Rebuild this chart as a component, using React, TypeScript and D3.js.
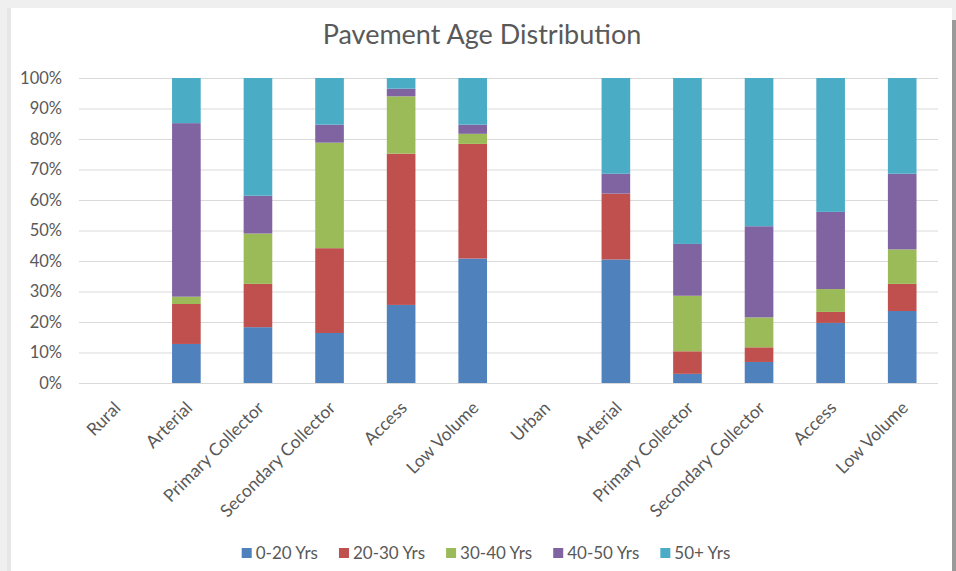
import React, { useEffect, useRef } from "react";
import * as d3 from "d3";

const categories = [
  "Rural", "Arterial", "Primary Collector", "Secondary Collector", "Access", "Low Volume",
  "Urban", "Arterial", "Primary Collector", "Secondary Collector", "Access", "Low Volume",
];
const seriesNames = ["0-20 Yrs", "20-30 Yrs", "30-40 Yrs", "40-50 Yrs", "50+ Yrs"];
const s0_20 = [0, 12.8, 18.3, 16.4, 25.6, 40.8, 0, 40.5, 3.0, 6.9, 19.7, 23.6];
const s20_30 = [0, 13.1, 14.2, 27.8, 49.6, 37.6, 0, 21.6, 7.4, 4.8, 3.6, 8.9];
const s30_40 = [0, 2.4, 16.5, 34.6, 18.8, 3.3, 0, 0, 18.2, 9.8, 7.5, 11.3];
const s40_50 = [0, 56.9, 12.4, 5.9, 2.5, 3.0, 0, 6.5, 17.0, 29.9, 25.3, 24.8];
const s50plus = [0, 14.8, 38.6, 15.3, 3.5, 15.3, 0, 31.4, 54.4, 48.6, 43.9, 31.4];
const yTicks = [0, 10, 20, 30, 40, 50, 60, 70, 80, 90, 100];
const colors = ["#4F81BD", "#C0504D", "#9BBB59", "#8064A2", "#4BACC6"];

const W = 956, H = 571;
const FONT = "Lato, 'Open Sans', sans-serif";

export default function App() {
  const ref = useRef<SVGSVGElement>(null);
  useEffect(() => {
    const svg = d3.select(ref.current);
    svg.selectAll("*").remove();

    // frame
    svg.append("rect").attr("width", W).attr("height", H).attr("fill", "#efefef");
    svg.append("rect").attr("x", 7).attr("y", 8).attr("width", 5).attr("height", H).attr("fill", "#e6e6e6");
    svg.append("rect").attr("x", 11).attr("y", 8).attr("width", 941).attr("height", H).attr("fill", "#ffffff");
    svg.append("rect").attr("x", 952).attr("y", 20).attr("width", 4).attr("height", H).attr("fill", "#9a9a9a");

    const left = 79, right = 938, top = 78, bottom = 383;
    const idx = categories.map((_, i) => i);
    const x = d3.scaleBand<number>().domain(idx).range([left, right]).paddingInner(0.6).paddingOuter(0.3);
    const y = d3.scaleLinear().domain([0, 100]).range([bottom, top]);

    svg.append("text").attr("x", 482).attr("y", 44).attr("text-anchor", "middle")
      .attr("font-family", FONT).attr("font-size", 27).attr("fill", "#595959")
      .text("Pavement Age Distribution");

    const g = svg.append("g");
    g.selectAll("line.grid").data(yTicks).enter().append("line")
      .attr("x1", left).attr("x2", right)
      .attr("y1", (d) => y(d) + 0.5).attr("y2", (d) => y(d) + 0.5)
      .attr("stroke", "#d9d9d9").attr("stroke-width", 1);
    g.selectAll("text.yt").data(yTicks).enter().append("text")
      .attr("x", 62).attr("y", (d) => y(d)).attr("dy", "0.35em").attr("text-anchor", "end")
      .attr("font-family", FONT).attr("font-size", 16.5).attr("fill", "#595959")
      .text((d) => d + "%");

    const rows = idx.map((i) => ({
      i, v: [s0_20[i], s20_30[i], s30_40[i], s40_50[i], s50plus[i]],
    }));
    const stack = d3.stack<any>().keys([0, 1, 2, 3, 4] as any).value((d: any, k: any) => d.v[k]);
    const stacked = stack(rows);
    stacked.forEach((layer, k) => {
      g.selectAll(`rect.s${k}`).data(layer.filter((d) => d[1] - d[0] > 0)).enter().append("rect")
        .attr("x", (d: any) => x(d.data.i)!)
        .attr("width", x.bandwidth())
        .attr("y", (d) => y(d[1]))
        .attr("height", (d) => y(d[0]) - y(d[1]))
        .attr("fill", colors[k]);
    });

    // x labels
    g.selectAll("text.xl").data(idx).enter().append("text")
      .attr("transform", (i) => `translate(${x(i)! + x.bandwidth() / 2 + 7},${bottom + 26}) rotate(-45)`)
      .attr("text-anchor", "end")
      .attr("font-family", FONT).attr("font-size", 17.5).attr("fill", "#595959")
      .text((i) => categories[i]);

    // legend
    const lg = svg.append("g");
    const items: { t: any; r: any; w: number }[] = [];
    let lx = 0;
    seriesNames.forEach((name, k) => {
      const r = lg.append("rect").attr("y", 548).attr("width", 10).attr("height", 10).attr("fill", colors[k]);
      const t = lg.append("text").attr("y", 559)
        .attr("font-family", FONT).attr("font-size", 17).attr("fill", "#595959").text(name);
      const w = (t.node() as SVGTextElement).getComputedTextLength();
      items.push({ t, r, w });
    });
    const gap = 21, sq = 14;
    const total = d3.sum(items, (d) => sq + d.w) + gap * (items.length - 1);
    lx = 486 - total / 2;
    items.forEach((it) => {
      it.r.attr("x", lx);
      it.t.attr("x", lx + sq);
      lx += sq + it.w + gap;
    });
  }, []);
  return <svg ref={ref} width={W} height={H} style={{ position: "absolute", left: 0, top: 0 }} />;
}
